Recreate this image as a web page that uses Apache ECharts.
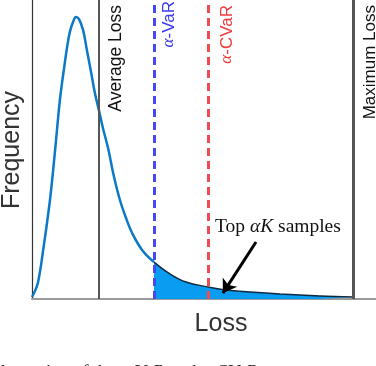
<!DOCTYPE html>
<html>
<head>
<meta charset="utf-8">
<script src="https://cdn.jsdelivr.net/npm/echarts@6/dist/echarts.min.js"></script>
<style>
  html, body { margin: 0; padding: 0; background: #fff; }
  #main { width: 376px; height: 366px; }
</style>
</head>
<body>
<div id="main"></div>
<script>
// loss distribution curve (loss units, frequency normalised to peak = 1)
var lossBody = [0.00, 0.09, 0.19, 0.34, 0.56, 0.72, 0.87, 1.00, 1.09, 1.18, 1.28, 1.37, 1.46, 1.59, 1.71, 1.84, 1.96, 2.09, 2.21, 2.37, 2.55, 2.74, 2.93, 3.12, 3.43, 3.80];
var freqBody = [0.007, 0.028, 0.060, 0.167, 0.351, 0.528, 0.706, 0.819, 0.890, 0.947, 0.982, 1.000, 0.993, 0.954, 0.883, 0.805, 0.730, 0.667, 0.606, 0.535, 0.436, 0.351, 0.287, 0.234, 0.174, 0.131];
// tail beyond VaR (top alpha*K samples)
var lossTail = [3.80, 4.30, 4.80, 5.48, 6.04, 6.79, 7.73, 8.97, 10.00];
var freqTail = [0.131, 0.089, 0.060, 0.043, 0.032, 0.025, 0.018, 0.011, 0.007];

var avgLoss = 2.09;
var varLoss = 3.80;
var cvarLoss = 5.48;
var maxLoss = 10.00;

// arrow pointing at the tail
var arrowFrom = [6.98, 0.202];
var arrowTo = [5.95, 0.021];

function pairs(xs, ys) {
    var out = [];
    for (var i = 0; i < xs.length; i++) out.push([xs[i], ys[i]]);
    return out;
}

var sans = '"Liberation Sans", Arial, sans-serif';
var serif = '"Liberation Serif", "Times New Roman", serif';

var myChart = echarts.init(document.getElementById('main'), null, { renderer: 'canvas' });
myChart.setOption({
    animation: false,
    grid: { left: 32, right: 0, top: 0, bottom: 67 },
    xAxis: {
        type: 'value', min: 0, max: 10.72,
        axisLine: { show: true, lineStyle: { color: '#9a9a9a', width: 2 } },
        axisTick: { show: false }, axisLabel: { show: false }, splitLine: { show: false }
    },
    yAxis: {
        type: 'value', min: 0, max: 1.06,
        axisLine: { show: true, lineStyle: { color: '#333', width: 1.2 } },
        axisTick: { show: false }, axisLabel: { show: false }, splitLine: { show: false }
    },
    series: [
        {
            type: 'line', name: 'tail', z: 2,
            data: pairs(lossTail, freqTail),
            smooth: 0.4, symbol: 'none',
            lineStyle: { color: '#0f2a40', width: 1.5 },
            areaStyle: { color: '#0a9cf0', opacity: 1 },
            markLine: {
                silent: true, symbol: ['none', 'arrow'], symbolSize: 13,
                label: { show: false },
                lineStyle: { color: '#000', width: 3, type: 'solid' },
                data: [[{ coord: arrowFrom }, { coord: arrowTo }]]
            }
        },
        {
            type: 'line', name: 'body', z: 3,
            data: pairs(lossBody, freqBody),
            smooth: 0.4, symbol: 'none',
            lineStyle: { color: '#0b78c8', width: 2.5 }
        },
        {
            type: 'line', name: 'markers', z: 4, data: [],
            markLine: {
                silent: true, symbol: 'none', label: { show: false },
                data: [
                    { xAxis: avgLoss, lineStyle: { color: '#555', width: 2, type: 'solid' } },
                    { xAxis: maxLoss, lineStyle: { color: '#555', width: 3, type: 'solid' } },
                    { xAxis: varLoss, lineStyle: { color: '#4848f2', width: 3, type: [8, 5] } },
                    { xAxis: cvarLoss, lineStyle: { color: '#f04c52', width: 3, type: [8, 5] } }
                ]
            }
        }
    ],
    graphic: [
        { type: 'text', x: 12, y: 150, rotation: Math.PI / 2,
          style: { text: 'Frequency', fontSize: 25, fontFamily: sans, fill: '#333', align: 'center', verticalAlign: 'middle' } },
        { type: 'text', x: 221, y: 324,
          style: { text: 'Loss', fontSize: 25, fontFamily: sans, fill: '#333', align: 'center', verticalAlign: 'middle' } },
        { type: 'text', x: 116, y: 5, rotation: Math.PI / 2,
          style: { text: 'Average Loss', fontSize: 17.5, fontFamily: sans, fill: '#111', align: 'right', verticalAlign: 'middle' } },
        { type: 'text', x: 370, y: 5, rotation: Math.PI / 2,
          style: { text: 'Maximum Loss', fontSize: 17, fontFamily: sans, fill: '#111', align: 'right', verticalAlign: 'middle' } },
        { type: 'text', x: 169, y: 1, rotation: Math.PI / 2,
          style: { text: '{a|α}-VaR', fontSize: 17, fontFamily: sans, fill: '#3a3af0', align: 'right', verticalAlign: 'middle',
                   rich: { a: { fontSize: 17, fontFamily: serif, fontStyle: 'italic', fill: '#3a3af0' } } } },
        { type: 'text', x: 227, y: 5, rotation: Math.PI / 2,
          style: { text: '{a|α}-CVaR', fontSize: 17, fontFamily: sans, fill: '#f03c3c', align: 'right', verticalAlign: 'middle',
                   rich: { a: { fontSize: 17, fontFamily: serif, fontStyle: 'italic', fill: '#f03c3c' } } } },
        { type: 'text', x: 215, y: 227,
          style: { text: 'Top {i|αK} samples', fontSize: 19.5, fontFamily: serif, fill: '#111', align: 'left', verticalAlign: 'middle',
                   rich: { i: { fontSize: 19.5, fontFamily: serif, fontStyle: 'italic', fill: '#111' } } } },
        { type: 'text', x: -10, y: 364,
          style: { text: 'Illustration of the α-VaR and α-CVaR.', fontSize: 18, fontFamily: serif, fill: '#222', align: 'left', verticalAlign: 'top' } }
    ]
});
</script>
</body>
</html>
